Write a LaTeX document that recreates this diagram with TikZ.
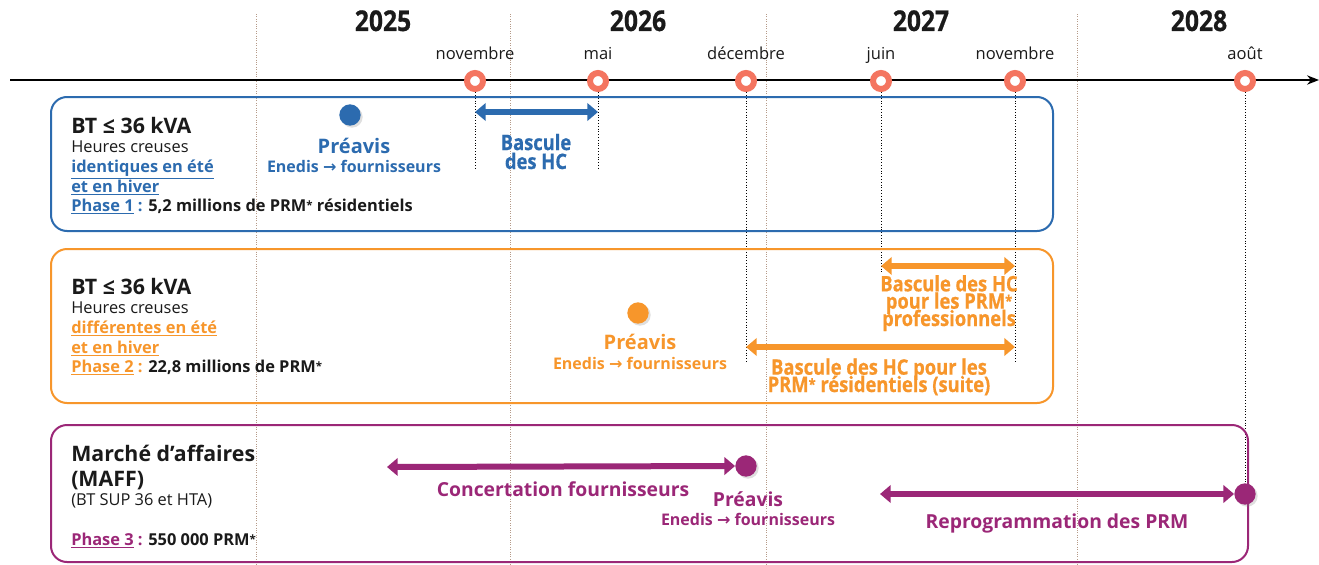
\documentclass[tikz,border=0pt]{standalone}
\usepackage{fontspec}
\setmainfont{Open Sans}
\newfontfamily\cond[FakeStretch=0.86, BoldFeatures={FakeBold=0.6}]{Open Sans}
\newfontfamily\arrfont{DejaVu Sans}
\usetikzlibrary{arrows.meta,shadows}
\definecolor{blueC}{HTML}{2C6BAF}
\definecolor{orangeC}{HTML}{F7962B}
\definecolor{purpleC}{HTML}{9B2777}
\definecolor{salmonC}{HTML}{F47560}
\definecolor{yearC}{HTML}{B59A88}
\definecolor{textC}{HTML}{1A1A1A}
\newcommand{\ra}{{\arrfont\bfseries →}}
\newcommand{\sast}{\raisebox{0.12em}{\scalebox{0.7}{*}}}
\newcommand{\tightlines}{\lineskiplimit=-100pt\relax\lineskip=0pt\relax}
\begin{document}
\begin{tikzpicture}[x=0.75pt,y=-0.75pt,
  every node/.style={inner sep=0pt, text=textC},
  boxframe/.style={line width=1.5pt, rounded corners=12pt},
  yearline/.style={draw=yearC, line width=0.6pt, dash pattern=on 0.6pt off 1.2pt},
  msline/.style={draw=black, line width=0.7pt, dash pattern=on 0.7pt off 1.4pt},
  milestone/.style={circle, draw=salmonC, line width=4.5pt, fill=white, minimum size=12pt,
     drop shadow={shadow xshift=1.5pt, shadow yshift=-1.5pt, opacity=0.25}},
  dot/.style={circle, minimum size=16pt,
     drop shadow={shadow xshift=1.5pt, shadow yshift=-1.5pt, opacity=0.25}},
  dbl/.style={line width=4.5pt, {Triangle[width=13pt,length=8pt]}-{Triangle[width=13pt,length=8pt]}},
  yearlbl/.style={anchor=base, font=\cond\fontsize{21.5}{24}\selectfont\bfseries},
  monthlbl/.style={anchor=base, font=\fontsize{12.4}{14}\selectfont},
  titlelbl/.style={anchor=base west, font=\fontsize{16}{18}\selectfont\bfseries},
  bodylbl/.style={anchor=base west, font=\fontsize{12.3}{14}\selectfont},
  boldlbl/.style={anchor=base west, font=\fontsize{12.3}{14}\selectfont\bfseries},
  prelbl/.style={anchor=base, font=\fontsize{15}{17}\selectfont\bfseries},
  enelbl/.style={anchor=base, font=\fontsize{12}{14}\selectfont\bfseries},
  biglbl/.style={anchor=base, font=\fontsize{14.5}{16}\selectfont\bfseries},
  baslbl/.style={anchor=base, align=center, font=\cond\fontsize{16}{13}\selectfont\bfseries\tightlines}
]
\useasboundingbox (0,0) rectangle (1319,564);
\fill[white] (0,0) rectangle (1319,564);

% year separators
\foreach \x/\n in {256/ya,510/yb,766/yc,1077/yd}{
  \coordinate (\n t) at (\x,14);
  \coordinate (\n b) at (\x,564);
  \draw[yearline] (\n t) -- (\n b);
}

% years
\node[yearlbl] (y25) at (383,31) {2025};
\node[yearlbl] (y26) at (638,31) {2026};
\node[yearlbl] (y27) at (921,31) {2027};
\node[yearlbl] (y28) at (1199,31) {2028};

% months
\node[monthlbl] (m1) at (475,59) {novembre};
\node[monthlbl] (m2) at (598,59) {mai};
\node[monthlbl] (m3) at (746,59) {décembre};
\node[monthlbl] (m4) at (881,59) {juin};
\node[monthlbl] (m5) at (1015,59) {novembre};
\node[monthlbl] (m6) at (1245,59) {août};

% axis
\coordinate (axL) at (10,80);
\coordinate (axR) at (1319,80);
\draw[line width=1pt, -{Stealth[length=9pt,width=7pt]}] (axL) -- (axR);

% dotted milestone lines
\coordinate (e1) at (475,170);
\coordinate (e2) at (598,170);
\coordinate (e3) at (746,362);
\coordinate (e4) at (881,273);
\coordinate (e5) at (1015,363);
\coordinate (e6) at (1245,484);
\foreach \i/\x in {1/475,2/598,3/746,4/881,5/1015,6/1245}{
  \coordinate (s\i) at (\x,81);
  \draw[msline] (s\i) -- (e\i);
}

% boxes
\draw[boxframe, draw=blueC] (51,97) rectangle (1053,231);
\draw[boxframe, draw=orangeC] (51,249) rectangle (1053,403);
\draw[boxframe, draw=purpleC] (51,425) rectangle (1248,562);

% milestones
\foreach \i/\x in {1/475,2/598,3/746,4/881,5/1015,6/1245}{
  \node[milestone] (ms\i) at (\x,81) {};
}

% ---------- Box 1 ----------
\node[titlelbl] (b1t) at (71,133) {BT ≤ 36 kVA};
\node[bodylbl] (b1h) at (71,152) {Heures creuses};
\node[boldlbl, text=blueC] (b1i) at (71,172) {\underline{identiques en été}};
\node[boldlbl, text=blueC] (b1e) at (71,192) {\underline{et en hiver}};
\node[boldlbl, text=blueC] (b1p) at (71,211) {\underline{Phase 1} : \textcolor{textC}{5,2 millions de PRM\sast{} résidentiels}};

\node[dot, fill=blueC] (d1) at (350,115) {};
\node[prelbl, text=blueC] (p1) at (354,153) {Préavis};
\node[enelbl, text=blueC] (en1) at (354,172) {Enedis \ra{} fournisseurs};

\coordinate (a1l) at (475,112);
\coordinate (a1r) at (598,112);
\draw[dbl, blueC] (a1l) -- (a1r);
\node[baslbl, font=\cond\fontsize{16}{14.2}\selectfont\bfseries, text=blueC] (bas1) at (536,169) {Bascule\\des HC};

% ---------- Box 2 ----------
\node[titlelbl] (b2t) at (71,294) {BT ≤ 36 kVA};
\node[bodylbl] (b2h) at (71,313) {Heures creuses};
\node[boldlbl, text=orangeC] (b2i) at (71,333) {\underline{différentes en été}};
\node[boldlbl, text=orangeC] (b2e) at (71,353) {\underline{et en hiver}};
\node[boldlbl, text=orangeC] (b2p) at (71,372) {\underline{Phase 2} : \textcolor{textC}{22,8 millions de PRM\sast}};

\node[dot, fill=orangeC] (d2) at (638,313) {};
\node[prelbl, text=orangeC] (p2) at (640,349) {Préavis};
\node[enelbl, text=orangeC] (en2) at (640,369) {Enedis \ra{} fournisseurs};

\coordinate (a2l) at (881,266);
\coordinate (a2r) at (1015,266);
\draw[dbl, orangeC] (a2l) -- (a2r);
\node[baslbl, text=orangeC] (bas2) at (949,326) {Bascule des HC\\pour les PRM\sast\\professionnels};

\coordinate (a3l) at (746,347);
\coordinate (a3r) at (1015,347);
\draw[dbl, orangeC] (a3l) -- (a3r);
\node[baslbl, text=orangeC] (bas3) at (879,392) {Bascule des HC pour les\\PRM\sast{} résidentiels (suite)};

% ---------- Box 3 ----------
\node[titlelbl] (b3t) at (71,461) {Marché d’affaires};
\node[titlelbl] (b3m) at (71,486) {(MAFF)};
\node[bodylbl] (b3b) at (71,505) {(BT SUP 36 et HTA)};
\node[boldlbl, text=purpleC] (b3p) at (71,545) {\underline{Phase 3} : \textcolor{textC}{550 000 PRM\sast}};

\node[dot, fill=purpleC] (d3) at (746,466) {};
\coordinate (a4l) at (387,467);
\draw[dbl, purpleC] (a4l) -- (d3.west);
\node[biglbl, text=purpleC] (cf) at (563,496) {Concertation fournisseurs};
\node[prelbl, font=\fontsize{14.5}{16}\selectfont\bfseries, text=purpleC] (p3) at (748,506) {Préavis};
\node[enelbl, text=purpleC] (en3) at (748,525) {Enedis \ra{} fournisseurs};

\node[dot, fill=purpleC] (d4) at (1245,494) {};
\coordinate (a5l) at (880,494);
\draw[dbl, purpleC] (a5l) -- (d4.west);
\node[biglbl, text=purpleC] (rp) at (1057,528) {Reprogrammation des PRM};
\end{tikzpicture}
\end{document}
